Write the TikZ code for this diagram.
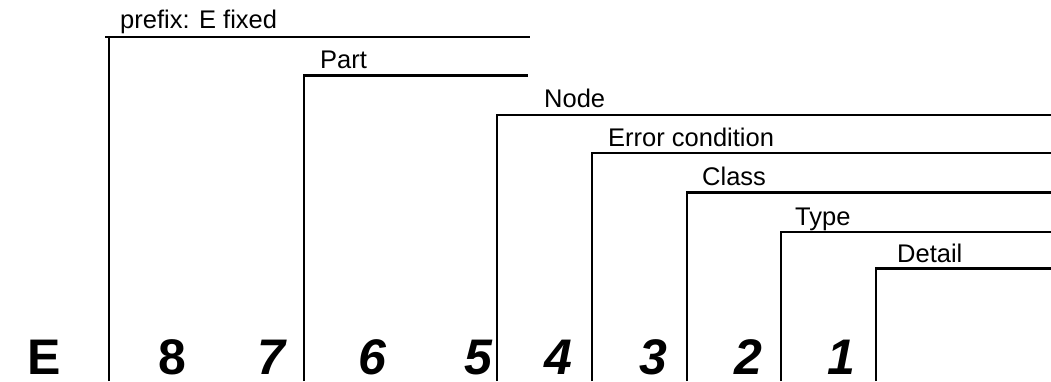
\documentclass[tikz,border=0pt]{standalone}
\usepackage{fontspec}
\setmainfont{Liberation Sans}
\begin{document}
\begin{tikzpicture}[x=1pt,y=-1pt,
  bracket/.style={line width=2.6pt, line join=miter},
  lbl/.style={anchor=base west, inner sep=0pt, font=\fontsize{25.5}{28}\selectfont},
  dig/.style={anchor=base, inner sep=0pt, font=\fontsize{50}{54}\selectfont\bfseries},
  idig/.style={dig, font=\fontsize{50}{54}\selectfont\bfseries\itshape}]
\useasboundingbox (0,0) rectangle (1051,381);
% corners of the field brackets
\coordinate (c1) at (109,37);   \coordinate (e1) at (530,37);
\coordinate (c2) at (304,75.5); \coordinate (e2) at (528,75.5);
\coordinate (c3) at (497,115);  \coordinate (e3) at (1051,115);
\coordinate (c4) at (592,153);  \coordinate (e4) at (1051,153);
\coordinate (c5) at (687,192.5);\coordinate (e5) at (1051,192.5);
\coordinate (c6) at (781,232);  \coordinate (e6) at (1051,232);
\coordinate (c7) at (876,268.5);\coordinate (e7) at (1051,268.5);
\foreach \i in {1,...,7} {
  \draw[bracket] (c\i |- 0,381) -- (c\i) -- (e\i);
}
\draw[bracket] (105,37) -- (c1);
% labels
\node[lbl] (lprefix) at (120,28) {prefix: E fixed};
\node[lbl] (lpart) at (320,68.5) {Part};
\node[lbl] (lnode) at (544,107) {Node};
\node[lbl] (lerr) at (608,146.5) {Error condition};
\node[lbl] (lclass) at (702,185.5) {Class};
\node[lbl] (ltype) at (795,225) {Type};
\node[lbl] (ldetail) at (897,262) {Detail};
% digits
\node[dig] (dE) at (44,374.6) {E};
\node[dig] (d8) at (172,374.6) {8};
\node[idig] (d7) at (271,374.6) {7};
\node[idig] (d6) at (372,374.6) {6};
\node[idig] (d5) at (478,374.6) {5};
\node[idig] (d4) at (558,374.6) {4};
\node[idig] (d3) at (653,374.6) {3};
\node[idig] (d2) at (748,374.6) {2};
\node[idig] (d1) at (841,374.6) {1};
\end{tikzpicture}
\end{document}
